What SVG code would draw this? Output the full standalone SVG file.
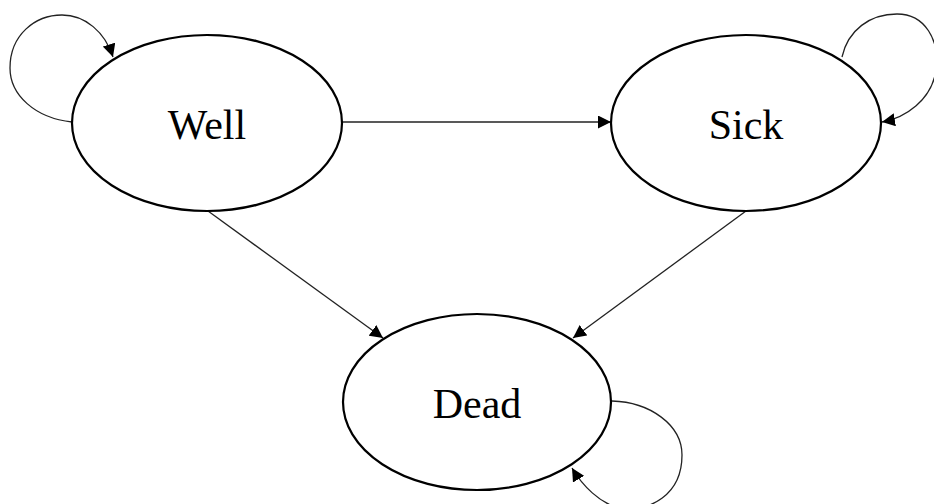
<svg xmlns="http://www.w3.org/2000/svg" width="934" height="504" viewBox="0 0 934 504">
<style>
.node{fill:#fff;stroke:#000;stroke-width:2.2}
.lbl{font-family:"Liberation Serif",serif;font-size:42px;text-anchor:middle;fill:#000}
.edge{fill:none;stroke:#222;stroke-width:1.3;marker-end:url(#ah)}
</style>
<defs>
<marker id="ah" viewBox="0 0 10 10" refX="10" refY="5" markerWidth="13" markerHeight="13" markerUnits="userSpaceOnUse" orient="auto">
<path d="M0,0 L10,5 L0,10 z" fill="#000"/>
</marker>
</defs>
<rect width="934" height="504" fill="#fff"/>
<g id="connectors">
<path class="edge" d="M72,122 C35,118 10,95 10,68 C10,35 35,15 62,15 C85,15 105,32 113,57"/>
<path class="edge" d="M842,57 C848,30 870,14 897,14 C925,14 940,40 936,70 C932,100 905,118 882,122"/>
<path class="edge" d="M612,401 C650,402 682,425 682,455 C682,495 650,512 620,508 C600,504 582,485 572,468"/>
<path class="edge" d="M342,122 L611,122"/>
<path class="edge" d="M208,211 L383,338"/>
<path class="edge" d="M746,211 L573,338"/>
</g>
<g id="well"><ellipse class="node" cx="207" cy="123" rx="135" ry="88"/><text class="lbl" x="207" y="139">Well</text></g>
<g id="sick"><ellipse class="node" cx="746" cy="123" rx="135" ry="88"/><text class="lbl" x="746" y="139">Sick</text></g>
<g id="dead"><ellipse class="node" cx="477" cy="402" rx="134" ry="88"/><text class="lbl" x="477" y="418">Dead</text></g>
</svg>
